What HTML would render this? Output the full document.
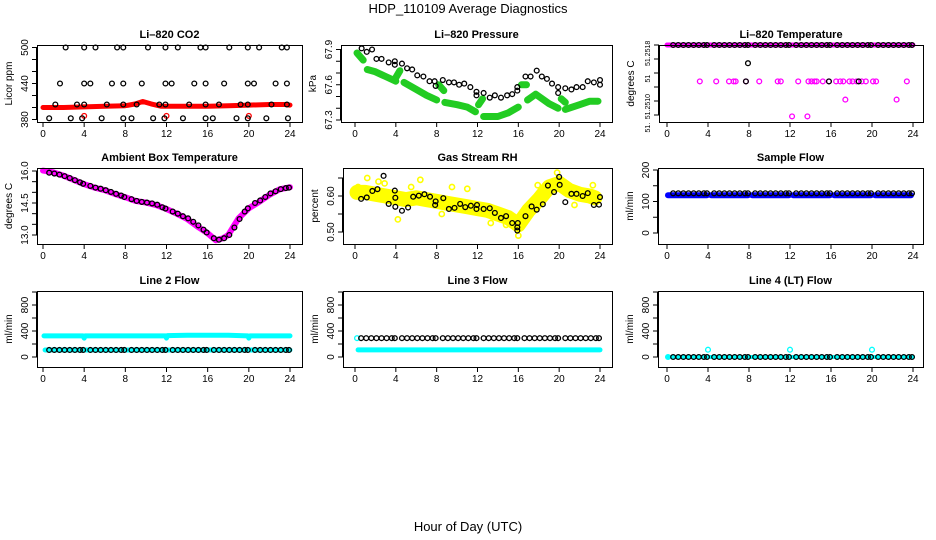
<!DOCTYPE html>
<html><head><meta charset="utf-8"><style>
html,body{margin:0;padding:0;background:#fff;}
svg{display:block;font-family:"Liberation Sans",sans-serif;}
</style></head><body>
<svg id="c" width="936" height="540" viewBox="0 0 936 540" xmlns="http://www.w3.org/2000/svg">
<text x="468" y="13" text-anchor="middle" font-size="13">HDP_110109  Average Diagnostics</text>
<text x="468" y="531" text-anchor="middle" font-size="13">Hour of Day (UTC)</text>
</svg>
<script>
// ---------- data ----------
const hourTicks = [0,4,8,12,16,20,24];
const sampleHours = [0.6,1.1,1.6,2.1,2.6,3.1,3.6,3.9,4.6,5.1,5.6,6.1,6.6,7.1,7.6,7.9,8.6,9.1,9.6,10.1,10.6,11.1,11.6,11.9,12.6,13.1,13.6,14.1,14.6,15.1,15.6,15.9,16.6,17.1,17.6,18.1,18.6,19.1,19.6,19.9,20.6,21.1,21.6,22.1,22.6,23.1,23.6,23.9];

const co2Levels = [500,440,405,382];
const co2LevelHours = [
 [2.2,4,5.1,7.2,7.8,10.2,11.9,13.1,15.3,15.8,18.1,19.9,21.0,23.2,23.7],
 [1.65,4.0,4.6,6.7,7.8,9.6,11.9,12.5,14.7,15.8,17.6,19.9,20.5,22.6,23.7],
 [1.2,3.3,4.0,6.2,7.8,9.1,11.3,11.9,14.2,15.8,17.1,19.2,19.9,22.2,23.7],
 [0.6,2.7,3.8,5.7,7.8,8.6,10.7,11.8,13.6,15.8,16.5,18.8,19.9,21.7,23.8]];
const co2RedHours = [0,2,4,6,8,9,9.7,10.5,11.5,14,16,18,20,22,23.5,24];
const co2RedValues = [400,400,401,402,403,406,410,406,402,402,402,403,404,405,405,404];
const co2RedOutHours = [4,12,20];
const co2RedOutValues = [386,386,386];

const presBlackHours = [0.65,1.15,1.67,2.1,2.6,3.3,3.9,3.9,4.6,5.1,5.6,6.1,6.7,7.3,7.8,7.9,8.6,9.2,9.7,10.2,10.7,11.3,11.9,11.9,12.6,13.2,13.7,14.3,14.9,15.4,15.9,15.9,16.7,17.2,17.8,18.3,18.8,19.3,19.9,19.9,20.6,21.2,21.7,22.3,22.8,23.4,24,24];
const presBlackValues = [67.91,67.88,67.9,67.82,67.82,67.79,67.8,67.77,67.78,67.74,67.73,67.68,67.67,67.63,67.63,67.59,67.64,67.62,67.62,67.6,67.61,67.58,67.54,67.51,67.53,67.49,67.51,67.49,67.51,67.52,67.55,67.58,67.67,67.67,67.72,67.67,67.65,67.61,67.58,67.53,67.57,67.56,67.58,67.58,67.63,67.62,67.64,67.6];
const presGreenHours = [0.2,0.8,null,1.2,2,3,4,null,4.0,4.4,null,4.8,6,7,8,null,8.2,8.7,null,8.8,10,11,11.8,null,12.1,12.5,null,12.6,14,15,16,null,16.3,16.8,null,16.9,17.7,19,19.9,null,20.2,20.6,null,20.6,22,23,23.8];
const presGreenValues = [67.87,67.81,null,67.73,67.71,67.67,67.63,null,67.66,67.72,null,67.62,67.56,67.51,67.47,null,67.6,67.55,null,67.45,67.43,67.41,67.37,null,67.43,67.48,null,67.33,67.33,67.36,67.41,null,67.6,67.6,null,67.47,67.52,67.44,67.4,null,67.48,67.45,null,67.39,67.43,67.46,67.46];

const tempTop = 51.2518;
const tempMagMidHours = [3.2,4.8,6.05,6.5,6.7,7.7,9.0,10.8,11.1,12.8,13.8,14.1,14.4,14.6,15.2,15.8,16.5,16.9,17.2,17.8,18.1,18.5,19,19.4,20.1,20.4,23.4];
const tempMagMidValue = 51.25154;
const tempMagLowHours = [17.4,22.4,12.2,13.7];
const tempMagLowValues = [51.25141,51.25141,51.25129,51.25129];
const tempBlackExtraHours = [7.9,7.7,15.8,18.7];
const tempBlackExtraValues = [51.25167,51.25154,51.25154,51.25154];
const tempLabelValues = [51.25174,51.25156,51.25136,51.25121];
const tempLabelTexts = ["51.2518","51","51.2510","51."];

const ambCurveHours = [0,1,2,3,4,5,6,7,8,9,10,11,12,13,14,15,16,16.8,17.5,18,19,20,21,22,23,24];
const ambCurveValues = [16.02,15.94,15.78,15.58,15.38,15.22,15.1,14.92,14.77,14.6,14.52,14.4,14.22,14.0,13.75,13.4,13.08,12.75,12.85,13.0,13.78,14.25,14.55,14.88,15.14,15.24];
const ambBlackValues = [15.92,15.88,15.83,15.76,15.67,15.57,15.47,15.40,15.30,15.22,15.17,15.10,15.02,14.93,14.85,14.78,14.68,14.60,14.55,14.52,14.48,14.42,14.30,14.24,14.10,14.00,13.88,13.78,13.62,13.45,13.25,13.12,12.85,12.78,12.85,13.00,13.35,13.75,14.10,14.25,14.50,14.62,14.78,14.95,15.05,15.15,15.20,15.22];

const rhBlackHours = [0.6,1.15,1.7,2.2,2.8,3.3,3.9,3.95,3.95,4.6,5.2,5.7,6.25,6.8,7.35,7.85,7.9,8.65,9.2,9.75,10.3,10.8,11.35,11.9,11.95,12.6,13.2,13.7,14.3,14.8,15.4,15.9,15.95,15.9,16.7,17.3,17.8,18.4,18.9,19.5,20,20.05,20.6,21.2,21.7,22.3,22.8,23.4,23.9,24];
const rhBlackValues = [0.592,0.596,0.614,0.619,0.656,0.578,0.615,0.595,0.57,0.559,0.568,0.598,0.601,0.605,0.598,0.575,0.585,0.594,0.564,0.567,0.578,0.569,0.573,0.564,0.575,0.564,0.566,0.553,0.539,0.544,0.525,0.513,0.525,0.504,0.544,0.571,0.562,0.577,0.629,0.611,0.653,0.631,0.583,0.606,0.606,0.6,0.608,0.575,0.576,0.597];
const rhYellowHours = [0.2,1,2,3,4,5,6,7,8,9,10,11,12,13,14,15,16,17,18,19,20,21,22,23,23.5];
const rhYellowValues = [0.61,0.61,0.605,0.60,0.595,0.59,0.595,0.59,0.585,0.58,0.575,0.57,0.565,0.56,0.55,0.54,0.52,0.56,0.59,0.625,0.635,0.615,0.605,0.60,0.595];
const rhYellowOutHours = [1.2,2.3,2.9,4.2,6.4,8.5,9.5,11,13.3,16,17.9,19.8,0.3,5.5,14.8,21.5,23.3];
const rhYellowOutValues = [0.65,0.64,0.635,0.535,0.645,0.55,0.625,0.62,0.525,0.49,0.63,0.665,0.625,0.625,0.52,0.575,0.63];

const flowBlackValue = 126;
const flowBlueHours = [0.1,3.9,null,4.3,7.9,null,8.3,11.9,null,12.3,15.9,null,16.3,19.9,null,20.3,23.8];
const flowBlueValues = [120,120,null,120,120,null,120,120,null,120,120,null,120,120,null,120,120];

const l2CyanHiHours = [0.1,3.9,4.0,4.1,11.9,12.0,12.1,14,18,19.9,20.0,20.1,24];
const l2CyanHiValues = [325,325,290,325,325,290,330,335,335,325,290,325,325];
const l2CyanLoHours = [0.2,24];
const l2CyanLoValues = [108,108];
const l2BlackValue = 108;

const l3CyanHours = [0.3,24];
const l3CyanValues = [110,110];
const l3BlackValue = 290;
const l3CyanPtHours = [0.2];
const l3CyanPtValues = [290];

const l4CyanHours = [0.1,24];
const l4CyanValues = [0,0];
const l4OutHours = [0.1,4,12,20];
const l4OutValues = [0,112,112,112];
const l4BlackValue = 0;

// ---------- helpers ----------
const NS="http://www.w3.org/2000/svg";
const svg=document.getElementById('c');
function mk(tag,attrs,parent){const e=document.createElementNS(NS,tag);for(const k in attrs)e.setAttribute(k,attrs[k]);(parent||svg).appendChild(e);return e;}
function lin(d0,d1,r0,r1){return v=>r0+(v-d0)*(r1-r0)/(d1-d0);}

function panel(p){
  const g=mk('g',{});
  
  
  p.x=lin(0,24,p.x0,p.x24);
  p.y=lin(p.yd[0],p.yd[1],p.yr[0],p.yr[1]);
  p.g=g;
  const t=mk('text',{x:(p.L+p.R)/2,y:p.T-7,'text-anchor':'middle','font-size':11,'font-weight':'bold'},g);
  t.textContent=p.title;
  
  
  const ya=mk('g',{},g);
  
  
  const ys=p.yticks.map(p.y);
  mk('line',{x1:p.L-0.5,x2:p.L-0.5,y1:Math.min(...ys),y2:Math.max(...ys),stroke:'#000'},ya);
  p.yticks.forEach((v,i)=>{
    const yy=p.y(v);
    mk('line',{x1:p.L-5,x2:p.L,y1:yy,y2:yy,stroke:'#000'},ya);
    const lab=p.ylabels?p.ylabels[i]:'';
    if(lab){const tx=mk('text',{x:0,y:0,'font-size':10,'text-anchor':'middle',transform:`translate(${p.L-9},${yy}) rotate(-90)`},ya);tx.textContent=lab;}
  });
  if(p.labelValues){
    p.labelValues.forEach((v,i)=>{const yy=p.y(v);const tx=mk('text',{x:0,y:0,'font-size':7,'text-anchor':'middle',transform:`translate(${p.L-9},${yy}) rotate(-90)`},ya);tx.textContent=p.labelTexts[i];});
  }
  const yt=mk('text',{x:0,y:0,'font-size':10,'text-anchor':'middle',transform:`translate(${p.L-25},${(p.T+p.B)/2}) rotate(-90)`},g);
  yt.textContent=p.ytitle;
  
  
  const xa=mk('g',{},g);
  
  
  mk('line',{x1:p.x(0),x2:p.x(24),y1:p.B+0.5,y2:p.B+0.5,stroke:'#000'},xa);
  hourTicks.forEach(h=>{
    const xx=p.x(h);
    mk('line',{x1:xx,x2:xx,y1:p.B,y2:p.B+5,stroke:'#000'},xa);
    const tx=mk('text',{x:xx,y:p.B+15,'font-size':10,'text-anchor':'middle'},xa);tx.textContent=h;
  });
  return p;
}
function box(p){
  const r=mk('rect',{x:p.L+0.5,y:p.T+0.5,width:p.R-p.L,height:p.B-p.T,fill:'none',stroke:'#000'},p.g);
  
  
}
function band(p,xs,ys,color,w,name){
  const g=mk('g',{},p.g);
  
  
  let seg=[];
  const flush=()=>{if(seg.length){mk('polyline',{points:seg.join(' '),fill:'none',stroke:color,'stroke-width':w,'stroke-linecap':'round','stroke-linejoin':'round'},g);seg=[];}};
  for(let i=0;i<xs.length;i++){
    if(xs[i]===null||ys[i]===null){flush();continue;}
    seg.push(p.x(xs[i]).toFixed(1)+','+p.y(ys[i]).toFixed(1));
  }
  flush();
}
function pts(p,xs,ys,color,name,r,sw){
  const g=mk('g',{},p.g);
  
  
  for(let i=0;i<xs.length;i++){
    const v=Array.isArray(ys)?ys[i]:ys;
    const c=mk('circle',{cx:p.x(xs[i]),cy:p.y(v),r:r||2.4,fill:'none',stroke:color,'stroke-width':sw||1.3},g);
    
    
  }
}
function range(a,b,s){const o=[];for(let v=a;v<=b+1e-9;v+=s)o.push(+v.toFixed(6));return o;}

// ---------- row 1 ----------
const p1=panel({name:'co2',title:'Li\u2013820 CO2',ytitle:'Licor ppm',L:37,R:302,T:45,B:122,x0:43,x24:290,yd:[380,500],yr:[119.5,47.5],yticks:range(380,500,20),ylabels:['380','','','440','','','500']});
band(p1,co2RedHours,co2RedValues,'#ff0000',5,'co2-red-series');
pts(p1,co2RedOutHours,co2RedOutValues,'#ff0000','co2-red-outliers');
co2Levels.forEach((lv,i)=>pts(p1,co2LevelHours[i],lv,'#000','co2-black-level-'+lv));
box(p1);

const p2=panel({name:'pressure',title:'Li\u2013820 Pressure',ytitle:'kPa',L:341,R:612,T:45,B:122,x0:355,x24:600,yd:[67.3,67.9],yr:[120,49.5],yticks:range(67.3,67.9,0.1),ylabels:['67.3','','','67.6','','','67.9']});
band(p2,presGreenHours,presGreenValues,'#22cc22',7,'pressure-green-series');
pts(p2,presBlackHours,presBlackValues,'#000','pressure-black-series');
box(p2);

const p3=panel({name:'temperature',title:'Li\u2013820 Temperature',ytitle:'degrees C',L:659,R:923,T:45,B:122,x0:667,x24:913,yd:[51.2513,51.2518],yr:[115,45],yticks:range(51.2513,51.2518,0.0001).reverse(),labelValues:tempLabelValues,labelTexts:tempLabelTexts});
band(p3,[0,24],[tempTop,tempTop],'#ff00ff',5,'temperature-magenta-top');
pts(p3,tempMagMidHours,tempMagMidValue,'#ff00ff','temperature-magenta-mid');
pts(p3,tempMagLowHours,tempMagLowValues,'#ff00ff','temperature-magenta-low');
pts(p3,sampleHours,tempTop,'#000','temperature-black-top');
pts(p3,tempBlackExtraHours,tempBlackExtraValues,'#000','temperature-black-extra');
box(p3);

// ---------- row 2 ----------
const p4=panel({name:'ambient',title:'Ambient Box Temperature',ytitle:'degrees C',L:37,R:302,T:168,B:244,x0:43,x24:290,yd:[13,16],yr:[235,171],yticks:range(13,16,0.5),ylabels:['13.0','','','14.5','','','16.0']});
band(p4,ambCurveHours,ambCurveValues,'#ff00ff',6,'ambient-magenta-series');
pts(p4,sampleHours,ambBlackValues,'#000','ambient-black-series');
box(p4);

const p5=panel({name:'rh',title:'Gas Stream RH',ytitle:'percent',L:343,R:612,T:168,B:244,x0:355,x24:600,yd:[0.5,0.6],yr:[232,196],yticks:[0.5,0.55,0.6,0.65],ylabels:['0.50','','0.60','']});
band(p5,rhYellowHours,rhYellowValues,'#ffff00',15,'rh-yellow-series');
pts(p5,rhYellowOutHours,rhYellowOutValues,'#ffff00','rh-yellow-outliers',2.6,1.6);
pts(p5,rhBlackHours,rhBlackValues,'#000','rh-black-series');
box(p5);

const p6=panel({name:'sample-flow',title:'Sample Flow',ytitle:'ml/min',L:658,R:923,T:168,B:244,x0:667,x24:913,yd:[0,200],yr:[233,170],yticks:[0,50,100,150,200],ylabels:['0','','100','','200']});
band(p6,flowBlueHours,flowBlueValues,'#0000ff',6,'sample-flow-blue-series');
pts(p6,sampleHours,flowBlackValue,'#000','sample-flow-black-series');
box(p6);

// ---------- row 3 ----------
const r3={yd:[0,400],yr:[357,331],yticks:[0,200,400,600,800,1000],ylabels:['0','','400','','800',''],T:291,B:367,ytitle:'ml/min'};
const p7=panel(Object.assign({},r3,{name:'line2',title:'Line 2 Flow',L:37,R:302,x0:43,x24:290}));
band(p7,l2CyanHiHours,l2CyanHiValues,'#00ffff',5,'line2-cyan-high');
band(p7,l2CyanLoHours,l2CyanLoValues,'#00ffff',5,'line2-cyan-low');
pts(p7,sampleHours,l2BlackValue,'#000','line2-black-series');
box(p7);

const p8=panel(Object.assign({},r3,{name:'line3',title:'Line 3 Flow',L:343,R:612,x0:355,x24:600}));
band(p8,l3CyanHours,l3CyanValues,'#00ffff',5,'line3-cyan-series');
pts(p8,l3CyanPtHours,l3CyanPtValues,'#00ffff','line3-cyan-point');
pts(p8,sampleHours,l3BlackValue,'#000','line3-black-series');
box(p8);

const p9=panel(Object.assign({},r3,{name:'line4',title:'Line 4 (LT) Flow',L:658,R:923,x0:667,x24:913}));
band(p9,l4CyanHours,l4CyanValues,'#00ffff',4,'line4-cyan-series');
pts(p9,l4OutHours,l4OutValues,'#00ffff','line4-cyan-outliers');
pts(p9,sampleHours,l4BlackValue,'#000','line4-black-series');
box(p9);
</script>
</body></html>
